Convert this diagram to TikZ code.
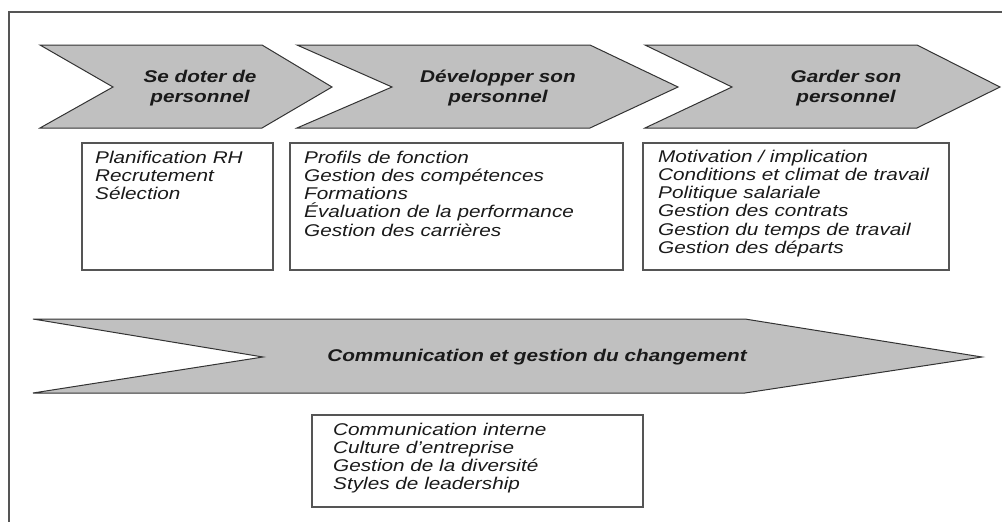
\documentclass[tikz,border=0pt]{standalone}
\usepackage{fontspec}
\setmainfont[FakeStretch=1.22]{Liberation Sans}
\definecolor{pfeilgrau}{HTML}{C0C0C0}
\definecolor{pfeilrand}{HTML}{333333}
\definecolor{kastenrand}{HTML}{555555}
\definecolor{schrift}{HTML}{1A1A1A}
\begin{document}
\begin{tikzpicture}[x=1pt,y=-1pt,
	pfeil/.style={fill=pfeilgrau,draw=pfeilrand,line width=1pt},
	kasten/.style={draw=kastenrand,line width=1.4pt},
	etappe/.style={font=\fontsize{17}{19.5}\selectfont\bfseries\itshape,align=center,inner sep=0pt,text=schrift},
	liste/.style={font=\fontsize{17}{18.3}\selectfont\itshape,align=left,anchor=north west,inner sep=0pt,text=schrift}]
	%\draw[step=50,gray!15] (0,0) grid (1002,522); %Hilfsgitter
	\useasboundingbox (0,0) rectangle (1002,522); \clip (0,0) rectangle (1002,522);
	\draw[draw=kastenrand,line width=1.2pt] (9,12) rectangle (1015,535);
	
	\filldraw[pfeil] (40,45) -- (262,45) -- (332,87) -- (262,128) -- (40,128) -- (113,87) -- cycle;
	\filldraw[pfeil] (297,45) -- (590,45) -- (678,87) -- (590,128) -- (297,128) -- (392,87) -- cycle;
	\filldraw[pfeil] (645,45) -- (917,45) -- (1000,87) -- (917,128) -- (645,128) -- (732,87) -- cycle;
	\node[etappe] (A) at (200,88) {Se doter de\\personnel}; \node[etappe] (B) at (498,88) {Développer son\\personnel}; \node[etappe] (C) at (846,88) {Garder son\\personnel};
	
	\draw[kasten] (82,143) rectangle (273,270); \draw[kasten] (290,143) rectangle (623,270); \draw[kasten] (643,143) rectangle (949,270);
	\node[liste] (LA) at (95,150.5) {Planification RH\\Recrutement\\Sélection};
	\node[liste] (LB) at (304,150.5) {Profils de fonction\\Gestion des compétences\\Formations\\Évaluation de la performance\\Gestion des carrières};
	\node[liste] (LC) at (658,149.5) {Motivation / implication\\Conditions et climat de travail\\Politique salariale\\Gestion des contrats\\Gestion du temps de travail\\Gestion des départs};
	
	\filldraw[pfeil] (33,319) -- (745,319) -- (982,357) -- (745,393) -- (33,393) -- (263,357) -- cycle;
	\node[etappe] (D) at (537,357) {Communication et gestion du changement};
	
	\draw[kasten] (312,415) rectangle (643,507);
	\node[liste] (LD) at (333,422.5) {Communication interne\\Culture d’entreprise\\Gestion de la diversité\\Styles de leadership};
\end{tikzpicture}
\end{document}
